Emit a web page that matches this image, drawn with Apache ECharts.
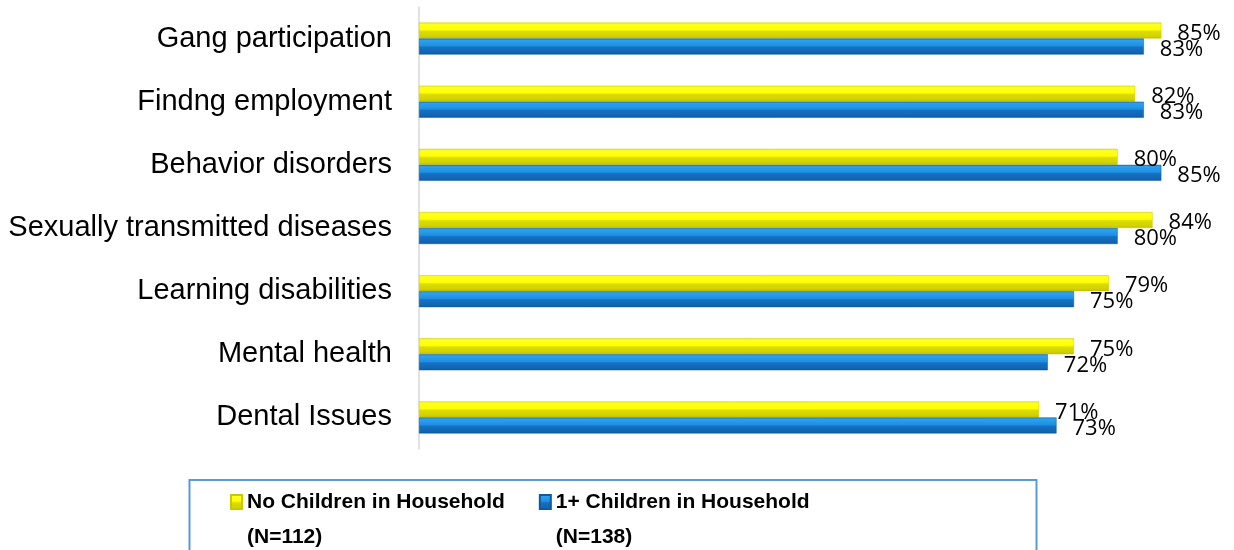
<!DOCTYPE html>
<html>
<head>
<meta charset="utf-8">
<script src="https://cdn.jsdelivr.net/npm/echarts@6/dist/echarts.min.js"></script>
<style>html,body{margin:0;padding:0;background:#fff;}#c{width:1234px;height:550px;}</style>
</head>
<body>
<div id="c"></div>
<script>
var categories = ['Gang participation', 'Findng employment', 'Behavior disorders', 'Sexually transmitted diseases', 'Learning disabilities', 'Mental health', 'Dental Issues'];
var noChildren = [85, 82, 80, 84, 79, 75, 71];
var withChildren = [83, 83, 85, 80, 75, 72, 73];
var seriesNames = ['No Children in Household', '1+ Children in Household'];
var seriesNotes = ['(N=112)', '(N=138)'];

var chart = echarts.init(document.getElementById('c'));
var yellow = new echarts.graphic.LinearGradient(0, 0, 0, 1, [
  {offset: 0, color: '#F2F200'}, {offset: 0.12, color: '#FFFF24'}, {offset: 0.45, color: '#FFFF00'},
  {offset: 0.55, color: '#DCDC00'}, {offset: 0.85, color: '#D2D200'}, {offset: 1, color: '#BDBD10'}]);
var blue = new echarts.graphic.LinearGradient(0, 0, 0, 1, [
  {offset: 0, color: '#1C8AD8'}, {offset: 0.12, color: '#2FA0EC'}, {offset: 0.45, color: '#1E90E2'},
  {offset: 0.55, color: '#1570C2'}, {offset: 0.85, color: '#1266B4'}, {offset: 1, color: '#0E5A9E'}]);

var labelCfg = {show: true, position: 'right', distance: 16, offset: [0, 3], color: '#000',
  fontFamily: "'Open Sans'", fontSize: 22, formatter: function (p) { return p.value + '%'; }};

function legendFmt(name) {
  var i = seriesNames.indexOf(name);
  return '\n' + name + '\n' + seriesNotes[i];
}

chart.setOption({
  animation: false,
  grid: {left: 419, right: 29, top: 7, bottom: 101, containLabel: false},
  xAxis: {type: 'value', min: 0, max: 90, show: false},
  yAxis: {type: 'category', data: categories, inverse: true,
    axisLine: {show: true, lineStyle: {color: '#D9D9D9', width: 1.5}},
    axisTick: {show: false},
    axisLabel: {margin: 27, color: '#000', fontFamily: 'Liberation Sans, Arial', fontSize: 29}},
  legend: {
    data: seriesNames, left: 230, top: 449.5, padding: 0, itemGap: 34,
    itemWidth: 11, itemHeight: 14, icon: 'rect', formatter: legendFmt,
    textStyle: {fontFamily: "'Liberation Sans', Arial", fontWeight: 'bold', fontSize: 21,
      color: '#000', lineHeight: 35}
  },
  graphic: [{type: 'rect', left: 187, top: 477.5, shape: {width: 847, height: 100},
    style: {fill: 'none', stroke: '#5B9BD5', lineWidth: 2}, z: -1}],
  series: [
    {name: seriesNames[0], type: 'bar', data: noChildren, barWidth: 16, barGap: '0%',
      itemStyle: {color: yellow, borderColor: '#C8C800', borderWidth: 0.5}, label: labelCfg},
    {name: seriesNames[1], type: 'bar', data: withChildren, barWidth: 16, barGap: '0%',
      itemStyle: {color: blue, borderColor: '#0E5A9E', borderWidth: 0.5}, label: labelCfg}
  ]
});
</script>
</body>
</html>
